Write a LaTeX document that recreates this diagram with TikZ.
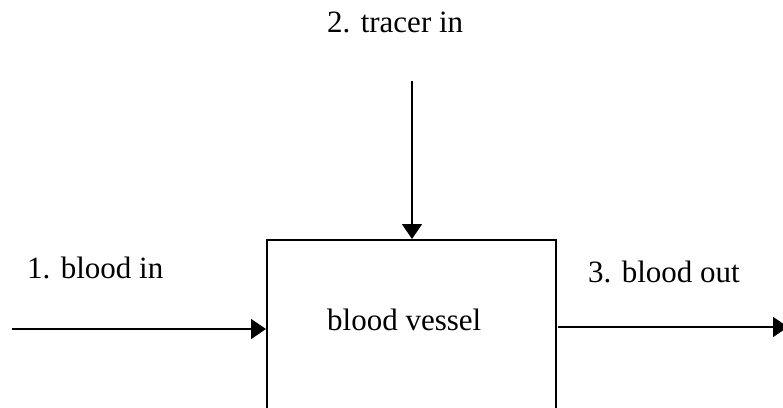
\documentclass[tikz,border=0pt]{standalone}
\usepackage{fontspec}
\setmainfont{Liberation Serif}
\usetikzlibrary{arrows.meta}
\begin{document}
\begin{tikzpicture}[x=1pt,y=-1pt,
  lbl/.style={inner sep=0pt,anchor=base west,font=\fontsize{31}{36}\selectfont},
  arr/.style={line width=1.6pt,-{Triangle[length=15pt,width=20pt]}},
  vessel/.style={draw,line width=1.6pt,minimum width=289pt,minimum height=220pt,inner sep=0pt,anchor=north west}]
\useasboundingbox (0,0) rectangle (783,407);
\clip (0,0) rectangle (783,407);
\node[vessel] (box) at (266,239) {};
\node[lbl] (vt) at (327,330) {blood vessel};
\node[lbl] (l1) at (27,278) {1. blood in};
\node[lbl] (l2) at (327,32) {2. tracer in};
\node[lbl] (l3) at (588,282) {3. blood out};
\coordinate (in1) at (12,329);
\coordinate (in2) at (412,81);
\coordinate (outs) at (558,327);
\coordinate (oute) at (788,327);
\draw[arr] (in1) -- (in1 -| box.west);
\draw[arr] (in2) -- (in2 |- box.north);
\draw[arr] (outs) -- (oute);
\end{tikzpicture}
\end{document}
